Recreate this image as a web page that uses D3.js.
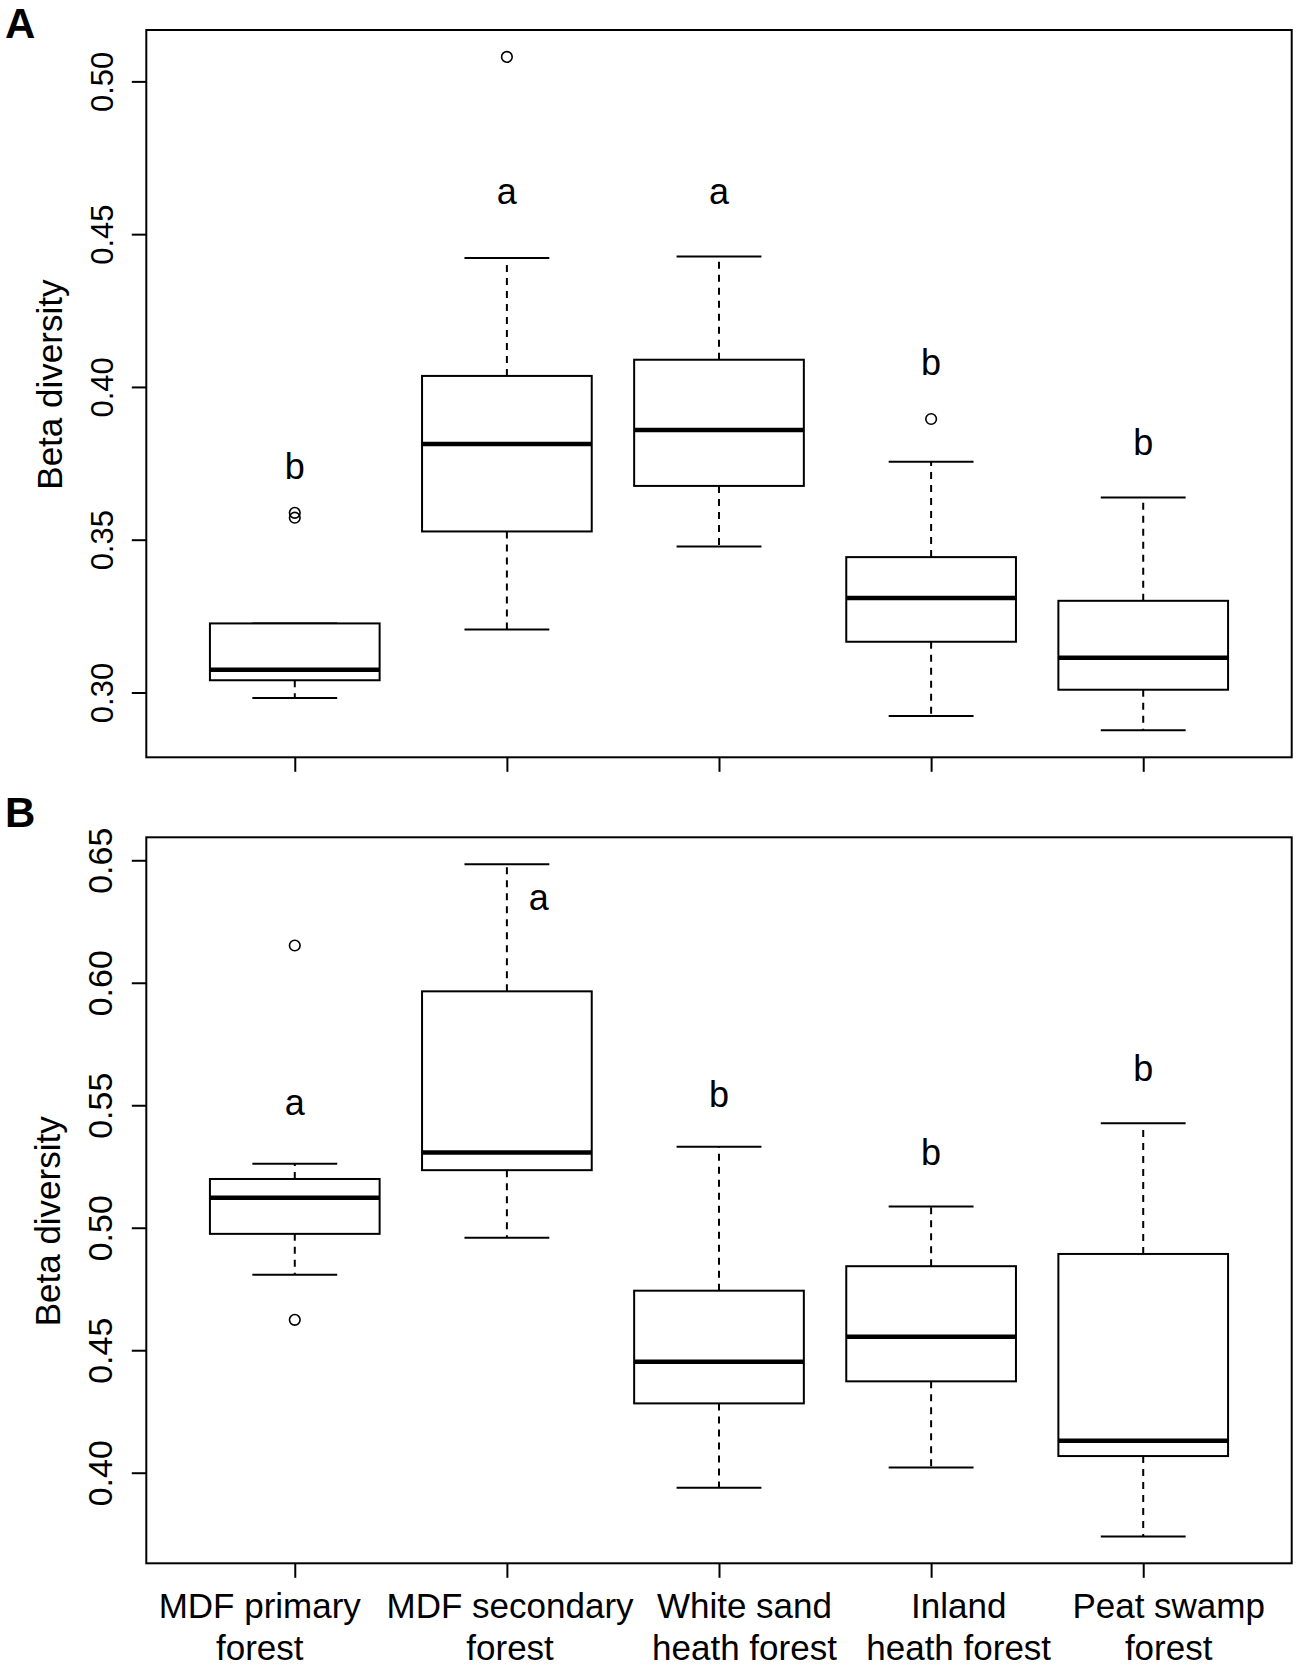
<!DOCTYPE html>
<html>
<head>
<meta charset="utf-8">
<script src="https://cdnjs.cloudflare.com/ajax/libs/d3/7.8.5/d3.min.js"></script>
<style>
  body { margin: 0; background: #fff; }
  text { font-family: "Liberation Sans", Arial, sans-serif; fill: #000; }
</style>
</head>
<body>
<svg id="chart" width="1300" height="1669"></svg>
<script>
// groups on the x axis, and where the two-line labels sit (in group units)
var categories = ['MDF primary forest', 'MDF secondary forest', 'White sand heath forest', 'Inland heath forest', 'Peat swamp forest'];
var labelLines = [['MDF primary', 'forest'], ['MDF secondary', 'forest'], ['White sand', 'heath forest'], ['Inland', 'heath forest'], ['Peat swamp', 'forest']];
var labelPos   = [0.835, 2.015, 3.12, 4.13, 5.12];

// panel A - beta diversity
var aLow      = [0.2982, 0.3206, 0.3478, 0.2923, 0.2876];
var aQ1       = [0.3040, 0.3527, 0.3676, 0.3166, 0.3009];
var aMedian   = [0.3074, 0.3813, 0.3859, 0.3309, 0.3114];
var aQ3       = [0.3226, 0.4036, 0.4089, 0.3443, 0.3300];
var aHigh     = [0.3226, 0.4422, 0.4427, 0.3755, 0.3638];
var aOutliers = [[0.3588, 0.3572], [0.508], [], [0.3895], []];
var aLetters  = ['b', 'a', 'a', 'b', 'b'];
var aLetterY  = [0.370, 0.460, 0.460, 0.404, 0.3778];
var aLetterX  = [1, 2, 3, 4, 5];
var aTicks    = [0.30, 0.35, 0.40, 0.45, 0.50];

// panel B - beta diversity
var bLow      = [0.4808, 0.4959, 0.3939, 0.4021, 0.3740];
var bQ1       = [0.4975, 0.5235, 0.4283, 0.4373, 0.4068];
var bMedian   = [0.5122, 0.5307, 0.4453, 0.4555, 0.4130];
var bQ3       = [0.5199, 0.5965, 0.4743, 0.4843, 0.4893];
var bHigh     = [0.5261, 0.6484, 0.5331, 0.5087, 0.5427];
var bOutliers = [[0.6152, 0.4624], [], [], [], []];
var bLetters  = ['a', 'a', 'b', 'b', 'b'];
var bLetterY  = [0.5459, 0.6298, 0.5493, 0.5258, 0.5600];
var bLetterX  = [1, 2.15, 3, 4, 5];
var bTicks    = [0.40, 0.45, 0.50, 0.55, 0.60, 0.65];

var svg = d3.select('#chart');
var left = 146.3, right = 1291.7;

// R style: groups at 1..n, axis padded 4% past 0.5 .. n+0.5
var x = d3.scaleLinear().domain([0.3, categories.length + 0.7]).range([left, right]);
var boxW = 0.8;

drawPanel({
	tag: 'A', tagY: 38, top: 30, bottom: 757.3, tickSize: 31, titleX: 62, tickX: 112.7,
	low: aLow, q1: aQ1, med: aMedian, q3: aQ3, high: aHigh, out: aOutliers,
	letters: aLetters, letterY: aLetterY, letterX: aLetterX, ticks: aTicks, labels: false
});

drawPanel({
	tag: 'B', tagY: 827, top: 837.3, bottom: 1563.3, tickSize: 34, titleX: 60, tickX: 111.7,
	low: bLow, q1: bQ1, med: bMedian, q3: bQ3, high: bHigh, out: bOutliers,
	letters: bLetters, letterY: bLetterY, letterX: bLetterX, ticks: bTicks, labels: true
});

function drawPanel(p) {
	var all = p.low.concat(p.high, d3.merge(p.out));
	var ext = d3.extent(all);
	var pad = (ext[1] - ext[0]) * 0.04;
	var y = d3.scaleLinear().domain([ext[0] - pad, ext[1] + pad]).range([p.bottom, p.top]);

	var g = svg.append('g');

	// panel letter
	svg.append('text')
		.attr('x', 5).attr('y', p.tagY)
		.style('font-size', '42px').style('font-weight', 'bold')
		.text(p.tag);

	// y axis, labels turned to run along the axis
	var yAxis = g.append('g')
		.attr('transform', 'translate(' + left + ',0)')
		.call(d3.axisLeft(y).tickValues(p.ticks).tickSize(14.5).tickFormat(d3.format('.2f')));
	yAxis.select('.domain').remove();
	yAxis.selectAll('line').attr('stroke', '#000').attr('stroke-width', 2);
	yAxis.selectAll('text')
		.attr('x', null).attr('y', null).attr('dy', null)
		.attr('text-anchor', 'middle')
		.attr('fill', '#000')
		.attr('transform', 'translate(' + (p.tickX - left) + ',0) rotate(-90)')
		.style('font-size', p.tickSize + 'px')
		.style('font-family', '"Liberation Sans", Arial, sans-serif');

	// x axis
	var xAxis = g.append('g')
		.attr('transform', 'translate(0,' + p.bottom + ')')
		.call(d3.axisBottom(x).tickValues(d3.range(1, categories.length + 1)).tickSize(14.5).tickFormat(''));
	xAxis.select('.domain').remove();
	xAxis.selectAll('line').attr('stroke', '#000').attr('stroke-width', 2);

	// y title
	var midY = (p.top + p.bottom) / 2 + (p.tag == 'A' ? -9 : 21);
	g.append('text')
		.attr('transform', 'translate(' + p.titleX + ',' + midY + ') rotate(-90)')
		.attr('text-anchor', 'middle')
		.style('font-size', '35px')
		.text('Beta diversity');

	// boxes
	var boxes = g.selectAll('.box').data(categories).enter().append('g').attr('class', 'box');

	// whiskers (dashed)
	boxes.append('line')
		.attr('x1', function(d, i){ return x(i + 1); }).attr('x2', function(d, i){ return x(i + 1); })
		.attr('y1', function(d, i){ return y(p.q3[i]); }).attr('y2', function(d, i){ return y(p.high[i]); })
		.attr('stroke', '#000').attr('stroke-width', 2).attr('stroke-dasharray', '7,6');
	boxes.append('line')
		.attr('x1', function(d, i){ return x(i + 1); }).attr('x2', function(d, i){ return x(i + 1); })
		.attr('y1', function(d, i){ return y(p.q1[i]); }).attr('y2', function(d, i){ return y(p.low[i]); })
		.attr('stroke', '#000').attr('stroke-width', 2).attr('stroke-dasharray', '7,6');

	// staples
	['high', 'low'].forEach(function(k){
		boxes.append('line')
			.attr('x1', function(d, i){ return x(i + 1 - boxW / 4); }).attr('x2', function(d, i){ return x(i + 1 + boxW / 4); })
			.attr('y1', function(d, i){ return y(p[k][i]); }).attr('y2', function(d, i){ return y(p[k][i]); })
			.attr('stroke', '#000').attr('stroke-width', 2);
	});

	boxes.append('rect')
		.attr('x', function(d, i){ return x(i + 1 - boxW / 2); })
		.attr('width', x(1 + boxW / 2) - x(1 - boxW / 2))
		.attr('y', function(d, i){ return y(p.q3[i]); })
		.attr('height', function(d, i){ return y(p.q1[i]) - y(p.q3[i]); })
		.attr('fill', '#fff').attr('stroke', '#000').attr('stroke-width', 2);

	boxes.append('line')
		.attr('x1', function(d, i){ return x(i + 1 - boxW / 2); }).attr('x2', function(d, i){ return x(i + 1 + boxW / 2); })
		.attr('y1', function(d, i){ return y(p.med[i]); }).attr('y2', function(d, i){ return y(p.med[i]); })
		.attr('stroke', '#000').attr('stroke-width', 4.5);

	// outliers
	boxes.each(function(d, i){
		d3.select(this).selectAll('circle').data(p.out[i]).enter().append('circle')
			.attr('cx', x(i + 1)).attr('cy', function(v){ return y(v); })
			.attr('r', 5.3)
			.attr('fill', 'none').attr('stroke', '#000').attr('stroke-width', 1.6);
	});

	// significance letters
	g.selectAll('.letter').data(p.letters).enter().append('text')
		.attr('class', 'letter')
		.attr('x', function(d, i){ return x(p.letterX[i]); })
		.attr('y', function(d, i){ return y(p.letterY[i]); })
		.attr('text-anchor', 'middle')
		.style('font-size', '36px')
		.text(function(d){ return d; });

	// frame
	g.append('rect')
		.attr('x', left).attr('y', p.top)
		.attr('width', right - left).attr('height', p.bottom - p.top)
		.attr('fill', 'none').attr('stroke', '#000').attr('stroke-width', 2);

	if (p.labels) {
		labelLines.forEach(function(lines, i){
			lines.forEach(function(s, j){
				g.append('text')
					.attr('x', x(labelPos[i]))
					.attr('y', p.bottom + 55 + j * 42)
					.attr('text-anchor', 'middle')
					.style('font-size', '35px')
					.text(s);
			});
		});
	}
}
</script>
</body>
</html>
